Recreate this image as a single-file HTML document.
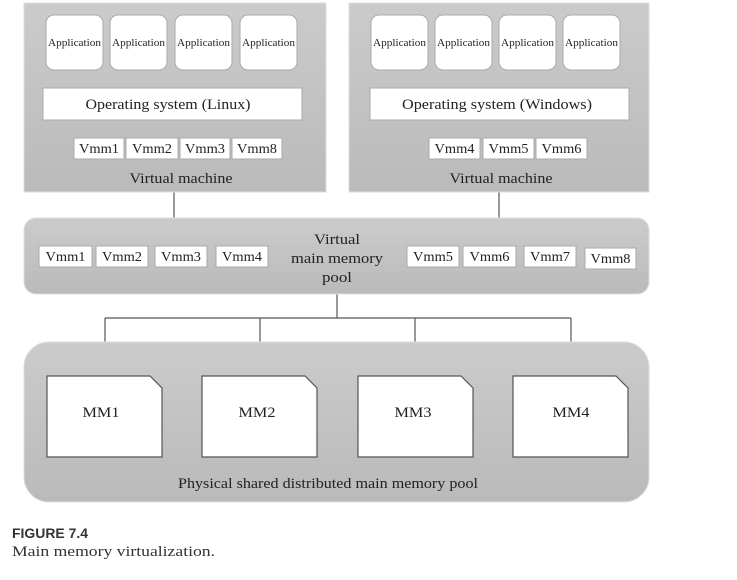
<!DOCTYPE html>
<html><head><meta charset="utf-8"><style>
html,body{margin:0;padding:0;background:#fff;}
svg{display:block;font-family:"Liberation Serif",serif;}
</style></head><body>
<svg width="737" height="580" viewBox="0 0 737 580" xmlns="http://www.w3.org/2000/svg">
<defs>
<linearGradient id="g" x1="0" y1="0" x2="0" y2="1"><stop offset="0" stop-color="#cbcbcb"/><stop offset="1" stop-color="#bababa"/></linearGradient>
</defs>
<g stroke="#555" stroke-width="1.2" fill="none">
<line x1="174" y1="192" x2="174" y2="218"/>
<line x1="499" y1="192" x2="499" y2="218"/>
<line x1="337" y1="294" x2="337" y2="318"/>
<line x1="105" y1="318" x2="571" y2="318"/>
<line x1="105" y1="318" x2="105" y2="342"/>
<line x1="260" y1="318" x2="260" y2="342"/>
<line x1="415" y1="318" x2="415" y2="342"/>
<line x1="571" y1="318" x2="571" y2="342"/>
</g>
<rect x="24" y="3" width="302" height="189" fill="url(#g)" stroke="#ddd"/>
<rect x="349" y="3" width="300" height="189" fill="url(#g)" stroke="#ddd"/>
<g fill="#fff" stroke="#aaa">
<rect x="46" y="15" width="57" height="55" rx="8"/>
<rect x="110" y="15" width="57" height="55" rx="8"/>
<rect x="175" y="15" width="57" height="55" rx="8"/>
<rect x="240" y="15" width="57" height="55" rx="8"/>
<rect x="371" y="15" width="57" height="55" rx="8"/>
<rect x="435" y="15" width="57" height="55" rx="8"/>
<rect x="499" y="15" width="57" height="55" rx="8"/>
<rect x="563" y="15" width="57" height="55" rx="8"/>
<rect x="43" y="88" width="259" height="32"/>
<rect x="370" y="88" width="259" height="32"/>
<rect x="74" y="138" width="50" height="21"/>
<rect x="126" y="138" width="52" height="21"/>
<rect x="180" y="138" width="50" height="21"/>
<rect x="232" y="138" width="50" height="21"/>
<rect x="429" y="138" width="51" height="21"/>
<rect x="483" y="138" width="51" height="21"/>
<rect x="536" y="138" width="51" height="21"/>
</g>
<g font-size="11" text-anchor="middle" fill="#222" lengthAdjust="spacingAndGlyphs">
<text x="74.5" y="46" textLength="53" lengthAdjust="spacingAndGlyphs">Application</text><text x="138.5" y="46" textLength="53" lengthAdjust="spacingAndGlyphs">Application</text><text x="203.5" y="46" textLength="53" lengthAdjust="spacingAndGlyphs">Application</text><text x="268.5" y="46" textLength="53" lengthAdjust="spacingAndGlyphs">Application</text>
<text x="399.5" y="46" textLength="53" lengthAdjust="spacingAndGlyphs">Application</text><text x="463.5" y="46" textLength="53" lengthAdjust="spacingAndGlyphs">Application</text><text x="527.5" y="46" textLength="53" lengthAdjust="spacingAndGlyphs">Application</text><text x="591.5" y="46" textLength="53" lengthAdjust="spacingAndGlyphs">Application</text>
</g>
<g font-size="15" text-anchor="middle" fill="#222">
<text x="168" y="109" textLength="165" lengthAdjust="spacingAndGlyphs">Operating system (Linux)</text>
<text x="497" y="109" textLength="190" lengthAdjust="spacingAndGlyphs">Operating system (Windows)</text>
<text x="181" y="183" textLength="103" lengthAdjust="spacingAndGlyphs">Virtual machine</text>
<text x="501" y="183" textLength="103" lengthAdjust="spacingAndGlyphs">Virtual machine</text>
</g>
<g font-size="13.5" text-anchor="middle" fill="#222">
<text x="99" y="153" textLength="40" lengthAdjust="spacingAndGlyphs">Vmm1</text><text x="152" y="153" textLength="40" lengthAdjust="spacingAndGlyphs">Vmm2</text><text x="205" y="153" textLength="40" lengthAdjust="spacingAndGlyphs">Vmm3</text><text x="257" y="153" textLength="40" lengthAdjust="spacingAndGlyphs">Vmm8</text>
<text x="454.5" y="153" textLength="40" lengthAdjust="spacingAndGlyphs">Vmm4</text><text x="508.5" y="153" textLength="40" lengthAdjust="spacingAndGlyphs">Vmm5</text><text x="561.5" y="153" textLength="40" lengthAdjust="spacingAndGlyphs">Vmm6</text>
</g>
<rect x="24" y="218" width="625" height="76" rx="12" fill="url(#g)" stroke="#ddd"/>
<g fill="#fff" stroke="#aaa">
<rect x="39" y="246" width="53" height="21"/><rect x="96" y="246" width="52" height="21"/>
<rect x="155" y="246" width="52" height="21"/><rect x="216" y="246" width="52" height="21"/>
<rect x="407" y="246" width="52" height="21"/><rect x="463" y="246" width="53" height="21"/>
<rect x="524" y="246" width="52" height="21"/><rect x="585" y="248" width="51" height="21"/>
</g>
<g font-size="13.5" text-anchor="middle" fill="#222">
<text x="65.5" y="261" textLength="40" lengthAdjust="spacingAndGlyphs">Vmm1</text><text x="122" y="261" textLength="40" lengthAdjust="spacingAndGlyphs">Vmm2</text><text x="181" y="261" textLength="40" lengthAdjust="spacingAndGlyphs">Vmm3</text><text x="242" y="261" textLength="40" lengthAdjust="spacingAndGlyphs">Vmm4</text>
<text x="433" y="261" textLength="40" lengthAdjust="spacingAndGlyphs">Vmm5</text><text x="489.5" y="261" textLength="40" lengthAdjust="spacingAndGlyphs">Vmm6</text><text x="550" y="261" textLength="40" lengthAdjust="spacingAndGlyphs">Vmm7</text><text x="610.5" y="263" textLength="40" lengthAdjust="spacingAndGlyphs">Vmm8</text>
</g>
<g font-size="15" text-anchor="middle" fill="#222">
<text x="337" y="244" textLength="46" lengthAdjust="spacingAndGlyphs">Virtual</text><text x="337" y="263" textLength="92" lengthAdjust="spacingAndGlyphs">main memory</text><text x="337" y="282" textLength="30" lengthAdjust="spacingAndGlyphs">pool</text>
</g>
<rect x="24" y="342" width="625" height="160" rx="25" fill="url(#g)" stroke="#ddd"/>
<g fill="#fff" stroke="#555" stroke-width="1.2">
<path d="M47 376 H150 L162 388 V457 H47 Z"/>
<path d="M202 376 H305 L317 388 V457 H202 Z"/>
<path d="M358 376 H461 L473 388 V457 H358 Z"/>
<path d="M513 376 H616 L628 388 V457 H513 Z"/>
</g>
<g font-size="15" text-anchor="middle" fill="#222">
<text x="101" y="417" textLength="37" lengthAdjust="spacingAndGlyphs">MM1</text><text x="257" y="417" textLength="37" lengthAdjust="spacingAndGlyphs">MM2</text><text x="413" y="417" textLength="37" lengthAdjust="spacingAndGlyphs">MM3</text><text x="571" y="417" textLength="37" lengthAdjust="spacingAndGlyphs">MM4</text>
<text x="328" y="488" textLength="300" lengthAdjust="spacingAndGlyphs">Physical shared distributed main memory pool</text>
</g>
<text x="12" y="538" font-family="Liberation Sans,sans-serif" font-weight="bold" font-size="13.5" fill="#333" textLength="76" lengthAdjust="spacingAndGlyphs">FIGURE 7.4</text>
<text x="12" y="556" font-size="15" fill="#333" textLength="203" lengthAdjust="spacingAndGlyphs">Main memory virtualization.</text>
</svg>
</body></html>
